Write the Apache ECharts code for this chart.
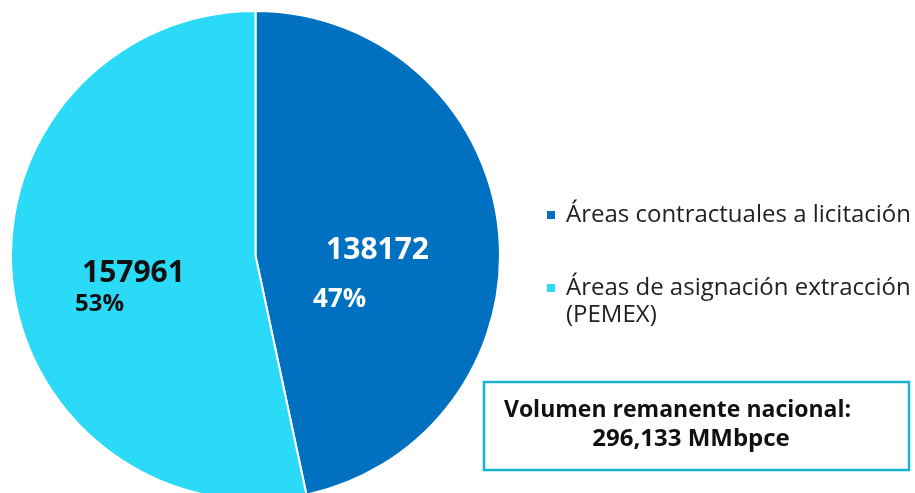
<!DOCTYPE html>
<html>
<head>
<meta charset="utf-8">
<script src="https://cdn.jsdelivr.net/npm/echarts@6/dist/echarts.min.js"></script>
<style>
  html, body { margin: 0; padding: 0; background: #fff; }
  #chart { width: 915px; height: 493px; }
</style>
</head>
<body>
<div id="chart"></div>
<script>
// datos del gráfico
const categories = ['Áreas contractuales a licitación', 'Áreas de asignación extracción (PEMEX)'];
const legendLines = [['Áreas contractuales a licitación'], ['Áreas de asignación extracción', '(PEMEX)']];
const values = [138172, 157961];
const colors = ['#0070C0', '#2ADAF7'];
const boxTitle = 'Volumen remanente nacional:';
const unit = 'MMbpce';

const FONT = '"Open Sans", "Noto Sans", sans-serif';

// estilos de etiqueta por rebanada (posición del porcentaje distinta en cada una)
const labelStyles = [
  { color: '#fff', offset: [-9, 39], padL: 13, pSize: 26, pLine: 62 },
  { color: '#111', offset: [-1, 18], padL: 7, pSize: 24, pLine: 26 }
];

const total = values.reduce((a, b) => a + b, 0);
const totalText = total.toLocaleString('en-US') + ' ' + unit;

const data = categories.map((name, i) => {
  const s = labelStyles[i];
  return {
    name: name,
    value: values[i],
    itemStyle: { color: colors[i] },
    label: {
      offset: s.offset,
      rich: {
        v: { fontFamily: FONT, fontSize: 30, fontWeight: 'bold', lineHeight: 36, color: s.color, align: 'left', padding: [0, 0, 0, s.padL] },
        p: { fontFamily: FONT, fontSize: s.pSize, fontWeight: 'bold', lineHeight: s.pLine, color: s.color, align: 'left' }
      }
    }
  };
});

const chart = echarts.init(document.getElementById('chart'));

const option = {
  animation: false,
  backgroundColor: '#fff',
  legend: {
    orient: 'vertical',
    left: 545,
    top: 203,
    padding: 0,
    itemGap: 22,
    itemWidth: 10,
    itemHeight: 10,
    icon: 'rect',
    data: categories,
    formatter: name => {
      const lines = legendLines[categories.indexOf(name)];
      const gap = [];
      for (let k = 1; k < lines.length; k++) gap.push('{g| }');
      return gap.concat(lines.map(l => '{t|' + l + '}')).join('\n');
    },
    textStyle: {
      rich: {
        t: { fontFamily: FONT, fontSize: 24, lineHeight: 27, color: '#222', padding: [0, 0, 0, 5] },
        g: { fontFamily: FONT, fontSize: 24, lineHeight: 27 }
      }
    }
  },
  series: [{
    type: 'pie',
    center: [255.5, 255.5],
    radius: 244.5,
    startAngle: 90,
    clockwise: true,
    avoidLabelOverlap: false,
    itemStyle: { borderColor: '#fff', borderWidth: 2 },
    label: {
      show: true,
      position: 'inside',
      formatter: p => '{v|' + p.value + '}\n{p|' + Math.round(p.percent) + '%}'
    },
    labelLine: { show: false },
    emphasis: { disabled: true },
    data: data
  }],
  graphic: [
    {
      type: 'rect',
      shape: { x: 484, y: 382, width: 425, height: 88 },
      style: { fill: '#fff', stroke: '#17B4D2', lineWidth: 2.5 }
    },
    {
      type: 'text',
      x: 677.5,
      y: 410,
      style: { text: boxTitle, font: 'bold 23px ' + FONT, fill: '#111', textAlign: 'center', textVerticalAlign: 'middle' }
    },
    {
      type: 'text',
      x: 691,
      y: 439,
      style: { text: totalText, font: 'bold 24px ' + FONT, fill: '#111', textAlign: 'center', textVerticalAlign: 'middle' }
    }
  ]
};

chart.setOption(option);
</script>
</body>
</html>
